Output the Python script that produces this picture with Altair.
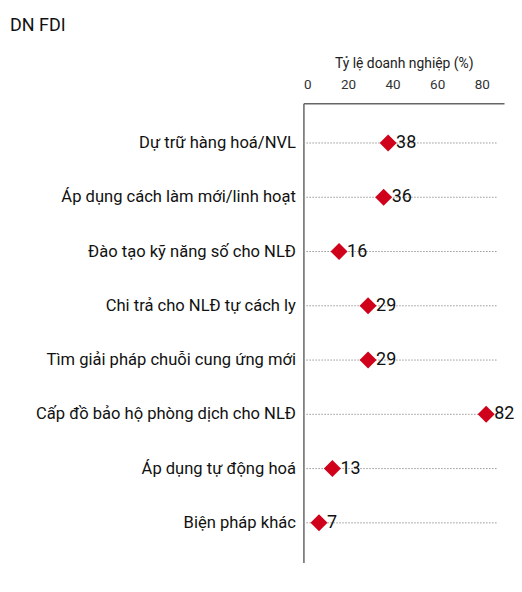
import altair as alt
import pandas as pd

categories = [
    "Dự trữ hàng hoá/NVL",
    "Áp dụng cách làm mới/linh hoạt",
    "Đào tạo kỹ năng số cho NLĐ",
    "Chi trả cho NLĐ tự cách ly",
    "Tìm giải pháp chuỗi cung ứng mới",
    "Cấp đồ bảo hộ phòng dịch cho NLĐ",
    "Áp dụng tự động hoá",
    "Biện pháp khác",
]
values = [38, 36, 16, 29, 29, 82, 13, 7]
chart_title = ["DN FDI"]
axis_title = "Tỷ lệ doanh nghiệp (%)"
tick_values = [0, 20, 40, 60, 80]
rule_end = 87

df = pd.DataFrame({"cat": categories, "val": values, "end": [rule_end] * len(categories), "start": [0] * len(categories)})
tdf = pd.DataFrame({"t": chart_title})

FONT = "Roboto"

y_enc = alt.Y(
    "cat:N",
    sort=categories,
    scale=alt.Scale(paddingOuter=0.33, paddingInner=0.2),
    axis=alt.Axis(
        title=None, ticks=False, labelFontSize=16.6, labelColor="#111111",
        labelFont=FONT, labelPadding=8, grid=False, labelLimit=320,
    ),
)
x_scale = alt.Scale(domain=[0, 90], nice=False)

base = alt.Chart(df)

rules = base.mark_rule(color="#999999", strokeDash=[1.5, 1.5], strokeWidth=1).encode(
    x=alt.X("start:Q", scale=x_scale,
            axis=alt.Axis(orient="top", values=tick_values, ticks=False, grid=False,
                          title=axis_title, titleFont=FONT, titleFontSize=13.9,
                          titleFontWeight="normal", titleColor="#222222", titlePadding=7,
                          labelFont=FONT, labelFontSize=13.5, labelColor="#333333",
                          labelPadding=12)),
    x2="end:Q",
    y=y_enc,
)

points = base.mark_point(shape="diamond", filled=True, size=290, color="#d0021b", opacity=1).encode(
    x=alt.X("val:Q", scale=x_scale),
    y=alt.Y("cat:N", sort=categories),
)

labels = base.mark_text(align="left", baseline="middle", dx=8, fontSize=18, font=FONT, color="#111111").encode(
    x=alt.X("val:Q", scale=x_scale),
    y=alt.Y("cat:N", sort=categories),
    text=alt.Text("val:Q"),
)

title_mark = alt.Chart(tdf).mark_text(align="left", baseline="alphabetic", fontSize=18, font=FONT, color="#111111").encode(
    x=alt.value(-294), y=alt.value(-73), text="t:N"
)

chart = alt.layer(rules, points, labels, title_mark).properties(
    width=201, height=460,
    autosize=alt.AutoSizeParams(type="none"),
    padding={"left": 296, "top": 95, "right": 10, "bottom": 10},
    background="white",
).configure_view(stroke=None).configure_axis(
    domain=True, domainColor="#666666", domainWidth=1.5, zindex=1
)

chart.save("out.html", embed_options={"renderer": "svg", "actions": False})
